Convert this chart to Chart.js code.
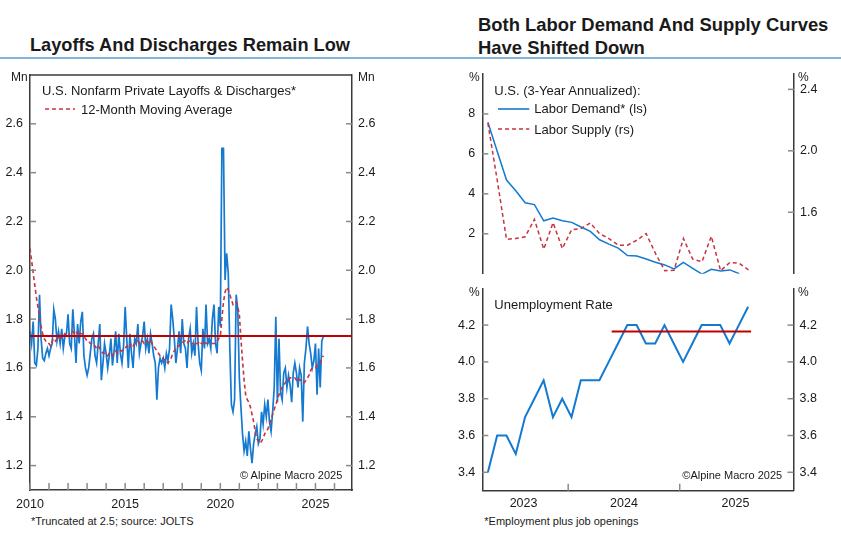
<!DOCTYPE html>
<html>
<head>
<meta charset="utf-8">
<script src="https://cdn.jsdelivr.net/npm/chart.js@4.4.1/dist/chart.umd.min.js"></script>
<style>
html, body { margin: 0; padding: 0; background: #fff; }
#page { position: relative; width: 841px; height: 535px; overflow: hidden; font-family: "Liberation Sans", Arial, sans-serif; color: #1a1a1a; }
canvas { position: absolute; }
.t { position: absolute; white-space: nowrap; }
#rule { position: absolute; left: 0; top: 57px; width: 841px; height: 2px; background: #7fb5dc; }
</style>
</head>
<body>
<div id="page">
  <div id="rule"></div>
  <canvas id="leftChart" width="400" height="450" style="left:0;top:60px;width:400px;height:450px"></canvas>
  <canvas id="demandChart" width="401" height="220" style="left:440px;top:60px;width:401px;height:220px"></canvas>
  <canvas id="urChart" width="401" height="230" style="left:440px;top:280px;width:401px;height:230px"></canvas>
</div>
<script>
// ---------- Data ----------
// U.S. nonfarm private layoffs & discharges, Mn, monthly from Jan 2010 (truncated at 2.5)
const layoffStart = 2010;
const layoffs = [
  1.75, 1.70, 1.79, 1.62, 1.61, 1.68, 1.90, 1.72, 1.64, 1.63, 1.66, 1.68,
  1.65, 1.68, 1.70, 1.84, 1.80, 1.71, 1.75, 1.70, 1.76, 1.68, 1.73, 1.74,
  1.82, 1.70, 1.68, 1.84, 1.74, 1.62, 1.78, 1.70, 1.79, 1.83, 1.65, 1.60,
  1.57, 1.60, 1.66, 1.72, 1.74, 1.65, 1.62, 1.70, 1.78, 1.55, 1.62, 1.70,
  1.66, 1.60, 1.65, 1.72, 1.61, 1.67, 1.75, 1.62, 1.74, 1.66, 1.62, 1.69,
  1.85, 1.72, 1.60, 1.74, 1.66, 1.60, 1.72, 1.70, 1.78, 1.66, 1.70, 1.73,
  1.79, 1.68, 1.72, 1.66, 1.74, 1.70, 1.65, 1.62, 1.47, 1.60, 1.64, 1.62,
  1.64, 1.60, 1.66, 1.63, 1.68, 1.86, 1.80, 1.72, 1.62, 1.68, 1.75, 1.66,
  1.80, 1.70, 1.68, 1.60, 1.72, 1.76, 1.66, 1.70, 1.65, 1.85, 1.70, 1.62,
  1.59, 1.76, 1.68, 1.86, 1.70, 1.72, 1.68, 1.80, 1.86, 1.70, 1.66, 1.85,
  1.77, 2.50, 2.50, 1.96, 2.07, 1.99, 1.68, 1.45, 1.42, 1.47, 1.90, 1.84,
  1.56, 1.44, 1.33, 1.26, 1.30, 1.24, 1.34, 1.27, 1.21, 1.29, 1.33, 1.36,
  1.29, 1.31, 1.42, 1.37, 1.45, 1.40, 1.47, 1.38, 1.34, 1.42, 1.52, 1.81,
  1.46, 1.72, 1.50, 1.47, 1.58, 1.60, 1.52, 1.57, 1.53, 1.46, 1.58, 1.62,
  1.58, 1.52, 1.60, 1.57, 1.38, 1.62, 1.68, 1.77, 1.70, 1.66, 1.60, 1.63,
  1.70, 1.49, 1.68, 1.52, 1.71, 1.73
];
// 12-month moving average
const layoffsMA = [
  2.09, 2.04, 1.99, 1.94, 1.89, 1.85, 1.81, 1.77, 1.74, 1.72, 1.71, 1.70,
  1.70, 1.69, 1.71, 1.72, 1.71, 1.72, 1.73, 1.72, 1.73, 1.73, 1.74, 1.73,
  1.73, 1.74, 1.75, 1.75, 1.74, 1.75, 1.74, 1.75, 1.74, 1.74, 1.73, 1.72,
  1.71, 1.71, 1.70, 1.70, 1.69, 1.69, 1.68, 1.69, 1.68, 1.67, 1.66, 1.66,
  1.66, 1.65, 1.66, 1.66, 1.65, 1.66, 1.67, 1.66, 1.67, 1.67, 1.67, 1.68,
  1.68, 1.69, 1.68, 1.69, 1.70, 1.69, 1.70, 1.70, 1.71, 1.70, 1.71, 1.71,
  1.70, 1.71, 1.71, 1.70, 1.71, 1.70, 1.69, 1.68, 1.67, 1.66, 1.65, 1.64,
  1.64, 1.63, 1.63, 1.62, 1.63, 1.64, 1.66, 1.67, 1.68, 1.69, 1.69, 1.70,
  1.70, 1.71, 1.71, 1.70, 1.71, 1.71, 1.70, 1.70, 1.69, 1.70, 1.70, 1.71,
  1.70, 1.70, 1.71, 1.70, 1.70, 1.70, 1.70, 1.70, 1.70, 1.70, 1.71, 1.72,
  1.73, 1.80, 1.87, 1.91, 1.93, 1.92, 1.90, 1.88, 1.86, 1.87, 1.87, 1.85,
  1.82, 1.72, 1.63, 1.55, 1.49, 1.47, 1.46, 1.44, 1.41, 1.38, 1.34, 1.31,
  1.30, 1.29, 1.30, 1.31, 1.33, 1.34, 1.35, 1.37, 1.39, 1.41, 1.43, 1.45,
  1.47, 1.49, 1.51, 1.52, 1.53, 1.54, 1.55, 1.55, 1.56, 1.56, 1.56, 1.56,
  1.55, 1.56, 1.55, 1.55, 1.54, 1.54, 1.55, 1.56, 1.57, 1.59, 1.60, 1.60,
  1.60, 1.61, 1.61, 1.62, 1.64, 1.65
];
const layoffAvgLevel = 1.731;
const layoffAvgSpan = [2010, 2026.92];
const layoffYTicks = [1.2, 1.4, 1.6, 1.8, 2.0, 2.2, 2.4, 2.6];
const layoffYears = [2010, 2011, 2012, 2013, 2014, 2015, 2016, 2017, 2018, 2019, 2020, 2021, 2022, 2023, 2024, 2025, 2026];

// Right side, monthly from Apr 2023
const rightStart = 2023.28;
const laborDemand = [7.58, 6.13, 4.69, 4.15, 3.55, 3.46, 2.65, 2.79, 2.65, 2.57, 2.34, 2.12, 1.70, 1.48,
  1.28, 0.91, 0.89, 0.74, 0.57, 0.44, 0.24, 0.57, 0.27, -0.02, 0.22, 0.14, 0.19, 0.00];
const laborSupply = [2.18, 1.81, 1.424, 1.429, 1.44, 1.554, 1.36, 1.532, 1.364, 1.487, 1.494, 1.53, 1.461, 1.429,
  1.386, 1.386, 1.418, 1.461, 1.332, 1.219, 1.223, 1.429, 1.295, 1.278, 1.444, 1.219, 1.274, 1.267, 1.224];
const unemployment = [3.4, 3.6, 3.6, 3.5, 3.7, 3.8, 3.9, 3.7, 3.8, 3.7, 3.9, 3.9, 3.9, 4.0, 4.1,
  4.2, 4.2, 4.1, 4.1, 4.2, 4.1, 4.0, 4.1, 4.2, 4.2, 4.2, 4.1, 4.2, 4.3];
const urAvgLevel = 4.165;
const urAvgSpan = [2024.39, 2025.64];
const demandTicks = [2, 4, 6, 8];
const supplyTicks = [1.6, 2.0, 2.4];
const urTicks = [3.4, 3.6, 3.8, 4.0, 4.2];
const rightYearLabels = ['2023', '2024', '2025'];
const rightYearLabelAt = [2023.6, 2024.5, 2025.5];
const rightYearMarks = [2024, 2025];

// ---------- Style ----------
const BLUE = '#1479d0', RED_DASH = '#c9333d', RED = '#c00000';
const AXIS = '#3a3a3a', MARK = '#8a8a8a';
const FONT = '"Liberation Sans", Arial, sans-serif';
Chart.defaults.font.family = FONT;
Chart.defaults.color = '#1a1a1a';

const monthly = (arr, start) => arr.map((v, i) => ({ x: start + i / 12, y: v }));
const flat = (level, span) => span.map(x => ({ x, y: level }));
// keep the plot area exactly where layout.padding puts it
const noEdgePad = s => { s.paddingTop = 0; s.paddingBottom = 0; s.paddingLeft = 0; s.paddingRight = 0; };

// short tick marks pointing into the plot, plus optional top frame
const innerTicks = {
  id: 'innerTicks',
  afterDraw(chart, args, opts) {
    const { ctx, chartArea: a } = chart;
    const len = 6;
    ctx.save();
    ctx.strokeStyle = MARK; ctx.lineWidth = 1.5;
    const seg = (x1, y1, x2, y2) => { ctx.beginPath(); ctx.moveTo(x1, y1); ctx.lineTo(x2, y2); ctx.stroke(); };
    Object.values(chart.scales).forEach(s => {
      if (!s.options.display) return;
      if (s.axis === 'x') {
        const vals = opts.xMarks || s.ticks.map(t => t.value);
        vals.forEach(v => { const p = s.getPixelForValue(v); seg(p, a.bottom, p, a.bottom - len - 1); });
      } else {
        s.ticks.forEach(t => {
          const p = s.getPixelForValue(t.value);
          if (s.position === 'left') seg(a.left, p, a.left + len, p);
          else seg(a.right, p, a.right - len, p);
        });
      }
    });
    if (opts.frameTop) {
      ctx.strokeStyle = AXIS; ctx.lineWidth = 1.5;
      seg(a.left, a.top, a.right, a.top);
    }
    ctx.restore();
  }
};

const tickFont = { family: FONT, size: 12.5 };
function yAxis(pos, min, max, ticks, width, fmt) {
  return {
    type: 'linear', position: pos, min, max,
    grid: { display: true, drawOnChartArea: false, drawTicks: false },
    border: { display: true, color: AXIS, width: 1.5 },
    afterBuildTicks: s => { s.ticks = ticks.map(v => ({ value: v })); },
    afterFit: s => { s.width = width; noEdgePad(s); },
    ticks: { font: tickFont, color: '#1a1a1a', padding: pos === 'left' ? 7 : 6, callback: fmt }
  };
}
const one = v => Number(v).toFixed(1);

// ---------- Left: layoffs ----------
new Chart(document.getElementById('leftChart'), {
  type: 'line',
  data: {
    datasets: [
      { data: flat(layoffAvgLevel, layoffAvgSpan), borderColor: RED, borderWidth: 2 },
      { data: monthly(layoffsMA, layoffStart), borderColor: RED_DASH, borderWidth: 1.6, borderDash: [4, 3] },
      { data: monthly(layoffs, layoffStart), borderColor: BLUE, borderWidth: 1.7 }
    ]
  },
  options: {
    responsive: false, animation: false,
    layout: { padding: { top: 15, left: 0, right: 0, bottom: 0 } },
    elements: { point: { radius: 0 }, line: { tension: 0 } },
    plugins: { legend: { display: false }, tooltip: { enabled: false }, innerTicks: { frameTop: true } },
    scales: {
      x: {
        type: 'linear', min: 2010, max: 2026.92,
        grid: { display: true, drawOnChartArea: false, drawTicks: false },
        border: { display: true, color: AXIS, width: 1.5 },
        afterBuildTicks: s => { s.ticks = layoffYears.map(v => ({ value: v })); },
        afterFit: s => { s.height = 20; noEdgePad(s); },
        ticks: { font: tickFont, color: '#1a1a1a', padding: 7, autoSkip: false, maxRotation: 0,
          callback: v => (v % 5 === 0 ? String(v) : '') }
      },
      y: yAxis('left', 1.1, 2.8, layoffYTicks, 30, one),
      y2: yAxis('right', 1.1, 2.8, layoffYTicks, 48, one)
    }
  },
  plugins: [innerTicks]
});

// ---------- Right top: labor demand & supply ----------
new Chart(document.getElementById('demandChart'), {
  type: 'line',
  data: {
    datasets: [
      { data: monthly(laborSupply, rightStart), yAxisID: 'y2', borderColor: RED_DASH, borderWidth: 1.5, borderDash: [4, 3] },
      { data: monthly(laborDemand, rightStart), yAxisID: 'y', borderColor: BLUE, borderWidth: 1.5 }
    ]
  },
  options: {
    responsive: false, animation: false,
    layout: { padding: { top: 14, left: 0, right: 0, bottom: 6.3 } },
    elements: { point: { radius: 0 }, line: { tension: 0 } },
    plugins: { legend: { display: false }, tooltip: { enabled: false }, innerTicks: {} },
    scales: {
      x: { type: 'linear', display: false, min: 2023.23, max: 2026.02 },
      y: yAxis('left', 0, 10, demandTicks, 42.3, v => String(v)),
      y2: yAxis('right', 1.2, 2.5, supplyTicks, 47, one)
    }
  },
  plugins: [innerTicks]
});

// ---------- Right bottom: unemployment rate ----------
new Chart(document.getElementById('urChart'), {
  type: 'line',
  data: {
    datasets: [
      { data: flat(urAvgLevel, urAvgSpan), borderColor: RED, borderWidth: 2 },
      { data: monthly(unemployment, rightStart), borderColor: BLUE, borderWidth: 2 }
    ]
  },
  options: {
    responsive: false, animation: false,
    layout: { padding: { top: 8.3, left: 0, right: 0, bottom: 0 } },
    elements: { point: { radius: 0 }, line: { tension: 0 } },
    plugins: { legend: { display: false }, tooltip: { enabled: false }, innerTicks: { xMarks: rightYearMarks } },
    scales: {
      x: {
        type: 'linear', min: 2023.23, max: 2026.02,
        grid: { display: true, drawOnChartArea: false, drawTicks: false },
        border: { display: true, color: AXIS, width: 1.5 },
        afterBuildTicks: s => { s.ticks = rightYearLabelAt.map(v => ({ value: v })); },
        afterFit: s => { s.height = 19.3; noEdgePad(s); },
        ticks: { font: tickFont, color: '#1a1a1a', padding: 5, autoSkip: false, maxRotation: 0,
          callback: (v, i) => rightYearLabels[i] }
      },
      y: yAxis('left', 3.3, 4.4, urTicks, 42.3, one),
      y2: yAxis('right', 3.3, 4.4, urTicks, 47.5, one)
    }
  },
  plugins: [innerTicks]
});

// ---------- Text overlays ----------
const page = document.getElementById('page');
function txt(s, x, base, size, o = {}) {
  const d = document.createElement('div');
  d.className = 't';
  d.textContent = s;
  d.style.left = x + 'px';
  d.style.top = (base - 0.85 * size) + 'px';
  d.style.fontSize = size + 'px';
  d.style.lineHeight = size + 'px';
  if (o.bold) d.style.fontWeight = 'bold';
  if (o.color) d.style.color = o.color;
  page.append(d);
  if (o.width) {
    d.style.transformOrigin = '0 0';
    d.style.transform = `scaleX(${o.width / d.offsetWidth})`;
  }
  if (o.scale) {
    d.style.transformOrigin = '0 0';
    d.style.transform = `scaleX(${o.scale})`;
  }
  return d;
}
function sample(x1, x2, y, color, dash) {
  const ns = 'http://www.w3.org/2000/svg';
  const svg = document.createElementNS(ns, 'svg');
  svg.setAttribute('width', x2 - x1 + 2);
  svg.setAttribute('height', 6);
  svg.style.position = 'absolute';
  svg.style.left = x1 + 'px';
  svg.style.top = (y - 3) + 'px';
  const l = document.createElementNS(ns, 'line');
  l.setAttribute('x1', 0); l.setAttribute('x2', x2 - x1);
  l.setAttribute('y1', 3); l.setAttribute('y2', 3);
  l.setAttribute('stroke', color); l.setAttribute('stroke-width', 1.6);
  if (dash) l.setAttribute('stroke-dasharray', dash);
  svg.append(l);
  page.append(svg);
}

// titles
txt('Layoffs And Discharges Remain Low', 30, 51, 19, { bold: true, width: 320 });
const t1 = txt('Both Labor Demand And Supply Curves', 478, 31, 19, { bold: true, width: 350 });
const titleScale = 350 / t1.offsetWidth;
txt('Have Shifted Down', 478, 54, 19, { bold: true, scale: titleScale });

// units
txt('Mn', 11, 81.5, 12);
txt('Mn', 358, 81.5, 12);
txt('%', 469, 81, 12);
txt('%', 798, 81, 12);
txt('%', 469, 296, 12);
txt('%', 798, 296, 12);

// legends
txt('U.S. Nonfarm Private Layoffs & Discharges*', 42, 94.7, 13);
sample(45, 75, 109.3, RED_DASH, '4 3');
txt('12-Month Moving Average', 81, 114, 13);

txt('U.S. (3-Year Annualized):', 494.3, 95, 13);
sample(497.7, 529, 109, BLUE);
txt('Labor Demand* (ls)', 534.3, 113.5, 13);
sample(497.7, 529, 129.3, RED_DASH, '4 3');
txt('Labor Supply (rs)', 534.3, 134, 13);

txt('Unemployment Rate', 494.3, 309, 13);

// credits and notes
txt('\u00A9 Alpine Macro 2025', 240, 479, 11);
txt('\u00A9Alpine Macro 2025', 682.3, 479, 11);
txt('*Truncated at 2.5; source: JOLTS', 31, 525.5, 11);
txt('*Employment plus job openings', 484.3, 525.5, 11);
</script>
</body>
</html>
